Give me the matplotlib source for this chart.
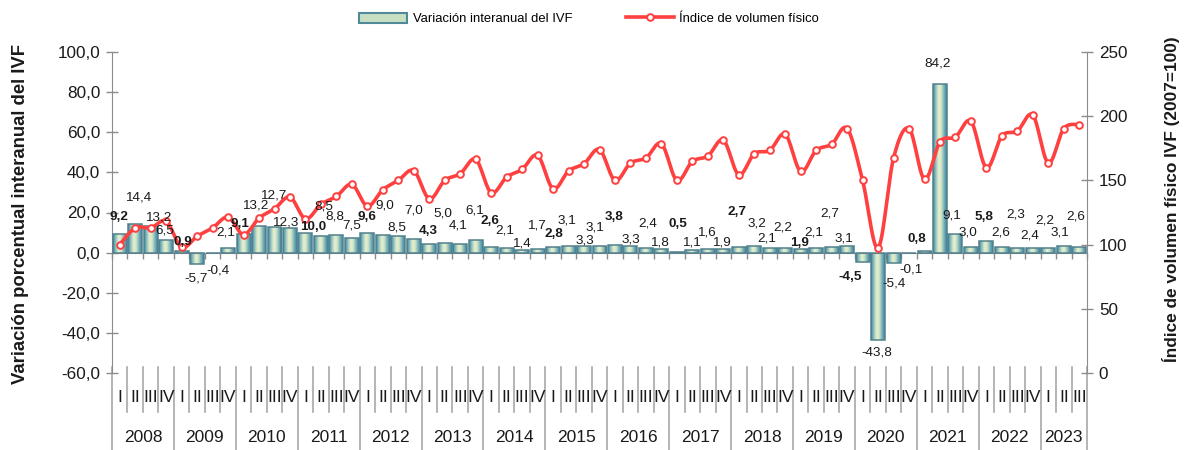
import numpy as np
import matplotlib
matplotlib.use("Agg")
import matplotlib.pyplot as plt
from matplotlib.colors import LinearSegmentedColormap
from matplotlib.lines import Line2D
from matplotlib.patches import Patch
from matplotlib.ticker import FuncFormatter

plt.rcParams['font.family'] = ['Liberation Sans', 'DejaVu Sans']

# ---------------- data ----------------
years = ['2008', '2009', '2010', '2011', '2012', '2013', '2014', '2015',
         '2016', '2017', '2018', '2019', '2020', '2021', '2022', '2023']
quarter_names = ['I', 'II', 'III', 'IV']
n_quarters_last_year = 3

variacion = [9.2, 14.4, 13.2, 6.5,
             0.9, -5.7, -0.4, 2.1,
             9.1, 13.2, 12.7, 12.3,
             10.0, 8.5, 8.8, 7.5,
             9.6, 9.0, 8.5, 7.0,
             4.3, 5.0, 4.1, 6.1,
             2.6, 2.1, 1.4, 1.7,
             2.8, 3.1, 3.3, 3.1,
             3.8, 3.3, 2.4, 1.8,
             0.5, 1.1, 1.6, 1.9,
             2.7, 3.2, 2.1, 2.2,
             1.9, 2.1, 2.7, 3.1,
             -4.5, -43.8, -5.4, -0.1,
             0.8, 84.2, 9.1, 3.0,
             5.8, 2.6, 2.3, 2.4,
             2.2, 3.1, 2.6]

ivf = [100.0, 113.0, 113.0, 118.2,
       97.9, 106.5, 113.0, 121.4,
       107.8, 120.6, 127.9, 137.0,
       120.0, 131.3, 137.5, 146.9,
       130.0, 142.7, 150.0, 157.6,
       135.7, 150.0, 155.2, 166.4,
       140.4, 152.6, 158.6, 169.5,
       143.5, 157.3, 163.0, 174.0,
       150.0, 163.5, 167.4, 178.6,
       150.0, 164.8, 169.0, 181.3,
       154.4, 170.8, 173.4, 185.9,
       157.0, 173.4, 178.1, 190.4,
       150.0, 97.4, 167.4, 190.4,
       150.8, 180.0, 183.8, 196.0,
       159.9, 184.6, 188.5, 200.8,
       163.5, 190.4, 193.5]

# label placement tweaks (pixels: dx right, dy up relative to bar end)
label_dx = [-1, 3, 7.5, -1.5, 1, -1.5, 5.5, -2.7, -3.2, -3.7, -1, -4.5,
            7.5, 2.6, -1.9, 0, -0.7, 2.2, -1.7, -0.5, -1, -1.5, -2, -0.8,
            -1.3, -1.9, -0.8, -1.3, 0.9, -1.3, 0.6, -4.3, -1.1, 0.7, 1.9, -1.9,
            0.8, -1.4, -1.9, -2.4, -1.9, 2.6, -2.9, -2.7, -1.5, -2.1, -1.6, -3.1,
            -12, -0.8, 0.4, 1.5, -8, -2.8, -3.3, -3.2, -2.7, -0.9, -2.1, -2.6,
            -3.1, -3.6, -3.1]
label_dy = [17.6, 25.9, 8.3, 9.5, 9.0, -14.9, -17.2, 16.1, 10.5, 20.6, 31.6, 5.7,
            5.3, 29.5, 18.4, 12, 16.1, 29, 8.3, 28, 13.4, 28.7, 18.8, 29.8,
            26.8, 17.8, 5.9, 23.6, 13.1, 25.8, 5.4, 19.1, 27.7, 6.1, 23.9, 6.7,
            27.7, 8.1, 17.1, 6.5, 34.9, 22.9, 9.5, 20.9, 5.5, 16.1, 33.3, 7.5,
            -15.7, -12.4, -20.5, -17.1, 12.1, 20.6, 18.8, 14.3, 23.7, 14.5, 33.4, 12.2,
            27.6, 13.5, 31.1]

n = len(variacion)
x = np.arange(n)

# ---------------- figure ----------------
W, H = 1186, 450
fig = plt.figure(figsize=(W / 100, H / 100), dpi=100)
L_px, R_px, T_px, B_px = 112, 1087, 52, 373
ax = fig.add_axes([L_px / W, (H - B_px) / H, (R_px - L_px) / W, (B_px - T_px) / H])

gray = '#8c8c8c'
txt = '#1a1a1a'

# bars with cylinder-like gradient
bar_w = 0.9
bars = ax.bar(x, variacion, width=bar_w, facecolor='none', edgecolor='#52808c',
              linewidth=1.1, zorder=3)
cmap = LinearSegmentedColormap.from_list(
    'cyl', ['#3a87a0', '#94c3c0', '#e9f1d0', '#d3e5c3', '#78b0bd', '#3a87a0'])
grad = np.linspace(0, 1, 40).reshape(1, -1)
for b in bars:
    x0, y0 = b.get_x(), b.get_y()
    w, h = b.get_width(), b.get_height()
    im = ax.imshow(grad, extent=[x0, x0 + w, min(y0, y0 + h), max(y0, y0 + h)],
                   aspect='auto', cmap=cmap, zorder=2, interpolation='bicubic')
    im.set_clip_path(b)

ax.set_xlim(-0.5, n - 0.5)
ax.set_ylim(-60, 100)
ax.set_yticks(np.arange(-60, 101, 20))
ax.yaxis.set_major_formatter(FuncFormatter(lambda v, p: f"{v:.1f}".replace('.', ',')))
ax.tick_params(axis='y', direction='inout', length=9, width=1, color=gray,
               labelsize=12.3, labelcolor=txt, pad=4)

# category axis crossing at zero
ax.spines['top'].set_visible(False)
ax.spines['right'].set_visible(False)
ax.spines['left'].set_color(gray)
ax.spines['bottom'].set_position(('data', 0))
ax.spines['bottom'].set_color(gray)
ax.set_xticks(np.arange(-0.5, n, 1.0))
ax.tick_params(axis='x', direction='out', length=4.5, width=1, color=gray,
               labelbottom=False)

# secondary axis
ax2 = ax.twinx()
ax2.set_ylim(0, 250)
ax2.set_yticks(np.arange(0, 251, 50))
ax2.tick_params(axis='y', direction='inout', length=9, width=1, color=gray,
                labelsize=12.3, labelcolor=txt, pad=4)
for s in ['top', 'left', 'bottom']:
    ax2.spines[s].set_visible(False)
ax2.spines['right'].set_color(gray)


# smoothed line (Catmull-Rom rendering through the data points)
def catmull_rom(xs, ys, steps=16):
    pts = np.column_stack([xs, ys]).astype(float)
    P = np.vstack([pts[0], pts, pts[-1]])
    out = []
    t = np.linspace(0, 1, steps, endpoint=False)[:, None]
    for k in range(len(pts) - 1):
        p0, p1, p2, p3 = P[k], P[k + 1], P[k + 2], P[k + 3]
        seg = 0.5 * ((2 * p1) + (-p0 + p2) * t + (2 * p0 - 5 * p1 + 4 * p2 - p3) * t ** 2
                     + (-p0 + 3 * p1 - 3 * p2 + p3) * t ** 3)
        out.append(seg)
    out.append(pts[-1:])
    return np.vstack(out)


red = '#ff4040'
sm = catmull_rom(x, ivf)
ax2.plot(sm[:, 0], sm[:, 1], color=red, lw=2.6, zorder=4, solid_capstyle='round')
ax2.plot(x, ivf, linestyle='none', marker='o', markersize=4.8, markerfacecolor='white',
         markeredgecolor=red, markeredgewidth=1.4, zorder=5)

# data labels
for i, v in enumerate(variacion):
    bold = (i % 4 == 0) and (i < 60)
    ax2.annotate(f"{v:.1f}".replace('.', ','), xy=(i, v), xycoords=ax.transData,
                 xytext=(label_dx[i] * 0.72, label_dy[i] * 0.72), textcoords='offset points',
                 ha='center', va='center', fontsize=9.7, color=txt,
                 fontweight='bold' if bold else 'normal', zorder=6)

# category labels below the plot area
xt = ax.get_xaxis_transform()
px = 1.0 / (B_px - T_px)  # axes fraction per pixel
q_y = -(398 - B_px) * px
yr_y = -(438 - B_px) * px
q_line_top = (B_px - 367) * px
q_line_bot = -(412 - B_px) * px
yr_line_bot = -(H - B_px) * px

quarter_labels = []
for yi, yr in enumerate(years):
    nq = 4 if yi < len(years) - 1 else n_quarters_last_year
    quarter_labels += quarter_names[:nq]

for i, ql in enumerate(quarter_labels):
    ax.text(i, q_y, ql, transform=xt, ha='center', va='center', fontsize=12.5,
            color=txt, clip_on=False)

start = 0
for yi, yr in enumerate(years):
    nq = 4 if yi < len(years) - 1 else n_quarters_last_year
    ax.text(start + (nq - 1) / 2, yr_y, yr, transform=xt, ha='center', va='center',
            fontsize=12.5, color=txt, clip_on=False)
    start += nq

for b in range(n + 1):
    xb = b - 0.5
    q_in_year = b % 4 == 0 or b == n
    bot = yr_line_bot if q_in_year else q_line_bot
    ax.add_line(Line2D([xb, xb], [q_line_top, bot], transform=xt, color='#a0a0a0',
                       lw=1.1, clip_on=False, zorder=1))

# axis titles
fig.text(21 / W, 1 - 214 / H, 'Variación porcentual interanual del IVF', rotation=90,
         ha='center', va='center', fontsize=13.3, fontweight='bold', color=txt)
fig.text(1171 / W, 1 - 199 / H, 'Índice de volumen físico IVF (2007=100)', rotation=90,
         ha='center', va='center', fontsize=12.4, fontweight='bold', color=txt)

# legend
handles = [Patch(facecolor='#c9dfc4', edgecolor='#4f8a99', linewidth=1.5),
           Line2D([0], [0], color=red, lw=2.6, marker='o', markersize=4.8,
                  markerfacecolor='white', markeredgecolor=red, markeredgewidth=1.4)]
fig.legend(handles, ['Variación interanual del IVF', 'Índice de volumen físico'],
           loc='center', bbox_to_anchor=(589 / W, 1 - 19 / H), ncol=2, frameon=False,
           fontsize=9.4, handlelength=3.7, handleheight=0.9, handletextpad=0.4,
           columnspacing=4.1)

fig.savefig('out.png', dpi=100)
